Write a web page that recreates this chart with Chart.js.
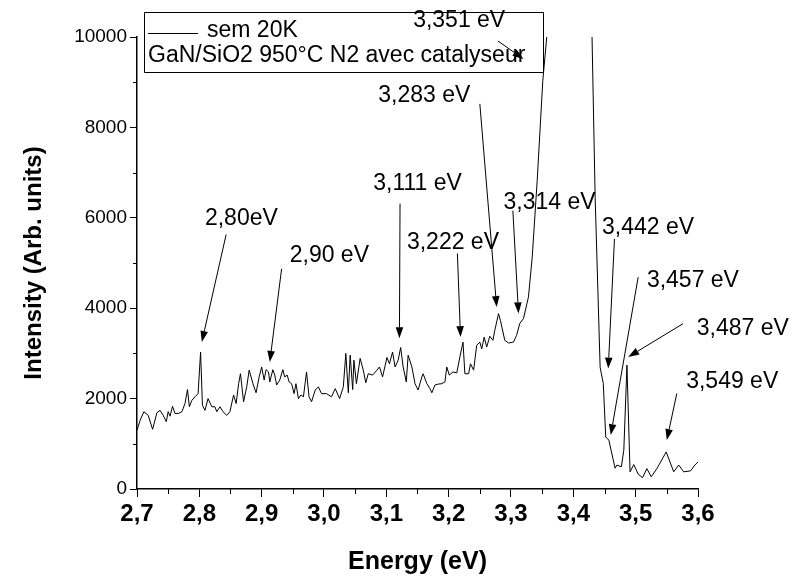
<!DOCTYPE html>
<html>
<head>
<meta charset="utf-8">
<script src="https://cdn.jsdelivr.net/npm/chart.js@4/dist/chart.umd.min.js"></script>
<style>
  html, body { margin: 0; padding: 0; background: #fff; }
  #wrap { width: 794px; height: 580px; }
</style>
</head>
<body>
<div id="wrap"><canvas id="c" width="794" height="580"></canvas></div>
<script>
// PL spectrum, sem 20K — GaN/SiO2 950°C N2 avec catalyseur

const energy = [
  2.700, 2.705, 2.711, 2.718, 2.725, 2.732, 2.737, 2.742, 2.747, 2.750,
  2.753, 2.757, 2.761, 2.766, 2.772, 2.777, 2.781, 2.784, 2.788, 2.793,
  2.798, 2.802, 2.805, 2.809, 2.814, 2.820, 2.825, 2.828, 2.833, 2.838,
  2.844, 2.849, 2.855, 2.859, 2.863, 2.866, 2.871, 2.876, 2.880, 2.886,
  2.891, 2.896, 2.900, 2.904, 2.907, 2.911, 2.913, 2.918, 2.921, 2.924,
  2.929, 2.934, 2.937, 2.941, 2.944, 2.948, 2.952, 2.955, 2.959, 2.963,
  2.967, 2.972, 2.976, 2.980, 2.986, 2.991, 2.996, 3.004, 3.012, 3.018,
  3.025, 3.031, 3.035, 3.039, 3.042, 3.046, 3.048, 3.052, 3.058, 3.063,
  3.067, 3.071, 3.078, 3.085, 3.089, 3.094, 3.101, 3.105, 3.110, 3.114,
  3.119, 3.123, 3.127, 3.132, 3.135, 3.141, 3.146, 3.151, 3.157, 3.159,
  3.165, 3.170, 3.173, 3.178, 3.183, 3.189, 3.194, 3.197, 3.201, 3.207,
  3.213, 3.218, 3.223, 3.226, 3.232, 3.235, 3.240, 3.245, 3.250, 3.253,
  3.257, 3.261, 3.266, 3.271, 3.274, 3.280, 3.283, 3.290, 3.296, 3.304,
  3.309, 3.314, 3.320, 3.328, 3.334, 3.342, 3.351, 3.358, 3.370, 3.390,
  3.410, 3.425, 3.430, 3.435, 3.443, 3.448, 3.452, 3.457, 3.467, 3.470,
  3.477, 3.481, 3.486, 3.491, 3.497, 3.504, 3.511, 3.518, 3.525, 3.534,
  3.549, 3.561, 3.569, 3.577, 3.588, 3.595, 3.600
];
const intensity = [
  1300, 1520, 1710, 1630, 1320, 1690, 1740, 1630, 1490, 1710,
  1610, 1830, 1670, 1670, 1710, 1890, 2200, 1820, 1960, 2040,
  2110, 3030, 1850, 1740, 2000, 1820, 1820, 1710, 1820, 1710,
  1630, 1710, 2080, 1890, 2330, 2550, 1930, 2260, 2630, 2330,
  2130, 2480, 2700, 2410, 2640, 2590, 2370, 2640, 2520, 2300,
  2410, 2640, 2480, 2520, 2370, 2330, 2110, 2330, 2000, 2080,
  2040, 2590, 2040, 1930, 2190, 2260, 2110, 2110, 2040, 2220,
  2000, 2260, 3000, 2130, 2960, 2200, 2850, 2330, 2890, 2630,
  2350, 2550, 2520, 2630, 2700, 2480, 2910, 2770, 3030, 2700,
  2850, 3130, 2700, 2370, 2960, 2700, 2330, 2190, 2480, 2550,
  2330, 2220, 2130, 2300, 2320, 2330, 2370, 2700, 2520, 2590,
  2570, 2920, 3250, 2550, 2550, 2770, 2630, 3180, 3250, 3100,
  3360, 3140, 3380, 3290, 3510, 3880, 3730, 3290, 3230, 3250,
  3400, 3660, 3770, 4250, 5120, 6820, 9030, 10100, 14000, 22000,
  20000, 13000, 10000, 6450, 2690, 2340, 1150, 1080, 460, 530,
  490, 860, 2740, 380, 540, 330, 250, 450, 270, 450,
  820, 380, 530, 380, 400, 530, 600
];

const xTickValues = [2.7, 2.8, 2.9, 3.0, 3.1, 3.2, 3.3, 3.4, 3.5, 3.6];
const xTickLabels = ['2,7', '2,8', '2,9', '3,0', '3,1', '3,2', '3,3', '3,4', '3,5', '3,6'];
const xMinorTicks = [2.75, 2.85, 2.95, 3.05, 3.15, 3.25, 3.35, 3.45, 3.55];
const yTickValues = [0, 2000, 4000, 6000, 8000, 10000];
const yMinorTicks = [1000, 3000, 5000, 7000, 9000];

const seriesName = 'sem 20K';
const sampleName = 'GaN/SiO2 950°C N2 avec catalyseur';

// peak labels: text anchor (left, middle), arrow start, arrow tip — all in (eV, intensity)
const annLabels = ['2,80eV', '2,90 eV', '3,111 eV', '3,222 eV', '3,283 eV', '3,314 eV',
                   '3,351 eV', '3,442 eV', '3,457 eV', '3,487 eV', '3,549 eV'];
const annTextE = [2.809, 2.945, 3.079, 3.133, 3.087, 3.288, 3.143, 3.446, 3.518, 3.598, 3.581];
const annTextI = [5982, 5166, 6755, 5459, 8698, 6342, 10353, 5790, 4614, 3554, 2369];
const annFromE = [2.843, 2.932, 3.122, 3.214, 3.250, 3.303, 3.279, 3.466, 3.504, 3.576, 3.566];
const annFromI = [5629, 4872, 6313, 5210, 8521, 6159, 9912, 5534, 4686, 3658, 2113];
const annTipE  = [2.804, 2.913, 3.121, 3.219, 3.277, 3.312, 3.320, 3.456, 3.460, 3.488, 3.550];
const annTipI  = [3252, 2810, 3333, 3362, 4024, 3885, 9514, 2664, 1192, 2920, 1082];

const FONT = "'Liberation Sans', Arial, Helvetica, sans-serif";

const points = energy.map((e, i) => ({ x: e, y: intensity[i] }));

const extras = {
  id: 'extras',
  afterDraw(chart) {
    const ctx = chart.ctx;
    const xs = chart.scales.x, ys = chart.scales.y;
    const area = chart.chartArea;
    ctx.save();
    ctx.strokeStyle = '#000';
    ctx.fillStyle = '#000';
    ctx.lineWidth = 1;

    // minor ticks
    for (const v of xMinorTicks) {
      const px = Math.round(xs.getPixelForValue(v)) + 0.5;
      ctx.beginPath(); ctx.moveTo(px, area.bottom); ctx.lineTo(px, area.bottom + 5); ctx.stroke();
    }
    for (const v of yMinorTicks) {
      const py = Math.round(ys.getPixelForValue(v)) + 0.5;
      ctx.beginPath(); ctx.moveTo(area.left, py); ctx.lineTo(area.left - 4, py); ctx.stroke();
    }

    // legend box
    const bx = area.left + 7, by = 12, bw = 399, bh = 60;
    ctx.beginPath(); ctx.rect(bx + 0.5, by + 0.5, bw, bh); ctx.stroke();
    ctx.beginPath(); ctx.moveTo(bx + 4, by + 21.5); ctx.lineTo(bx + 54, by + 21.5); ctx.stroke();
    ctx.font = '23px ' + FONT;
    ctx.textBaseline = 'middle';
    ctx.textAlign = 'left';
    ctx.fillText(seriesName, bx + 63, by + 19);
    ctx.fillText(sampleName, bx + 4, by + 44);

    // peak annotations
    for (let i = 0; i < annLabels.length; i++) {
      ctx.fillText(annLabels[i], xs.getPixelForValue(annTextE[i]), ys.getPixelForValue(annTextI[i]));
      const x1 = xs.getPixelForValue(annFromE[i]), y1 = ys.getPixelForValue(annFromI[i]);
      const x2 = xs.getPixelForValue(annTipE[i]), y2 = ys.getPixelForValue(annTipI[i]);
      const ang = Math.atan2(y2 - y1, x2 - x1);
      const hl = 11, hw = 3.8;
      const bxp = x2 - hl * Math.cos(ang), byp = y2 - hl * Math.sin(ang);
      ctx.beginPath(); ctx.moveTo(x1, y1); ctx.lineTo(bxp, byp); ctx.stroke();
      ctx.beginPath();
      ctx.moveTo(x2, y2);
      ctx.lineTo(bxp + hw * Math.sin(ang), byp - hw * Math.cos(ang));
      ctx.lineTo(bxp - hw * Math.sin(ang), byp + hw * Math.cos(ang));
      ctx.closePath(); ctx.fill();
    }
    ctx.restore();
  }
};

new Chart(document.getElementById('c'), {
  type: 'line',
  data: {
    datasets: [{
      label: seriesName,
      data: points,
      borderColor: '#000',
      borderWidth: 1,
      pointRadius: 0,
      tension: 0,
      fill: false,
    }]
  },
  options: {
    responsive: false,
    devicePixelRatio: 1,
    animation: false,
    parsing: false,
    layout: { padding: { top: 37, right: 96, bottom: 0, left: 0 } },
    plugins: {
      legend: { display: false },
      tooltip: { enabled: false },
    },
    scales: {
      x: {
        type: 'linear',
        min: 2.7,
        max: 3.6,
        afterBuildTicks: (s) => { s.ticks = xTickValues.map(v => ({ value: v })); },
        afterFit: (s) => { s.height = 91; },
        ticks: {
          color: '#000',
          padding: 3,
          maxRotation: 0,
          autoSkip: false,
          font: { family: FONT, size: 24, weight: 'bold' },
          callback: (v, i) => xTickLabels[i],
        },
        grid: { display: true, drawOnChartArea: false, tickLength: 8, color: '#000', lineWidth: 1 },
        border: { display: true, color: '#000', width: 1.5 },
        title: {
          display: true,
          text: 'Energy (eV)',
          color: '#000',
          font: { family: FONT, size: 25, weight: 'bold' },
          padding: { top: 0, bottom: 3 },
        },
      },
      y: {
        type: 'linear',
        min: 0,
        max: 10000,
        afterBuildTicks: (s) => { s.ticks = yTickValues.map(v => ({ value: v })); },
        afterFit: (s) => { s.width = 137; },
        ticks: {
          color: '#000',
          padding: 3,
          font: { family: FONT, size: 19 },
          callback: (v) => String(v),
        },
        grid: { display: true, drawOnChartArea: false, tickLength: 7, color: '#000', lineWidth: 1 },
        border: { display: true, color: '#000', width: 1.5 },
        title: {
          display: true,
          text: 'Intensity (Arb. units)',
          color: '#000',
          font: { family: FONT, size: 24, weight: 'bold' },
          padding: { top: 20, bottom: 0 },
        },
      },
    },
  },
  plugins: [extras],
});
</script>
</body>
</html>
